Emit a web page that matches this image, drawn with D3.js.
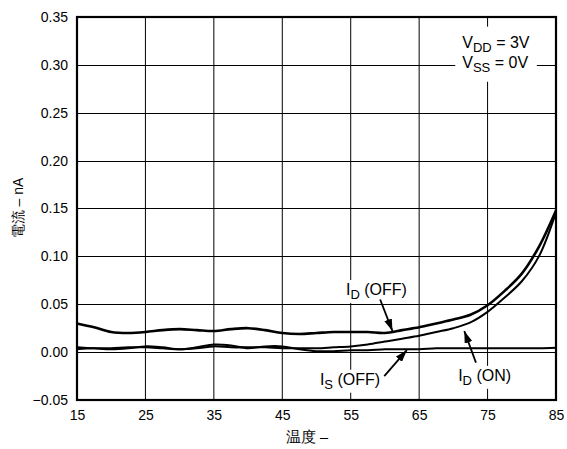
<!DOCTYPE html>
<html><head><meta charset="utf-8">
<script src="https://cdn.jsdelivr.net/npm/d3@7"></script>
<style>
body{margin:0;background:#fff;}
text{font-family:"Liberation Sans",Arial,sans-serif;fill:#000;}
</style></head>
<body><svg id="c" width="567" height="449"></svg>
<script>
const temps = [15,17.5,20,22.5,25,27.5,30,32.5,35,37.5,40,42.5,45,47.5,50,52.5,55,57.5,60,62.5,65,67.5,70,72.5,75,77.5,80,82.5,85];
const idOff = [0.030,0.026,0.021,0.020,0.021,0.023,0.024,0.023,0.022,0.024,0.025,0.023,0.020,0.019,0.020,0.021,0.021,0.021,0.020,0.023,0.026,0.030,0.034,0.039,0.049,0.064,0.082,0.110,0.148];
const idOn  = [0.003,0.004,0.004,0.005,0.005,0.004,0.003,0.004,0.006,0.005,0.005,0.005,0.004,0.004,0.004,0.005,0.006,0.008,0.011,0.014,0.017,0.021,0.025,0.031,0.042,0.057,0.074,0.100,0.146];
const isOff = [0.005,0.004,0.003,0.004,0.006,0.005,0.003,0.005,0.008,0.007,0.004,0.006,0.006,0.003,0.001,0.001,0.002,0.002,0.003,0.003,0.003,0.004,0.004,0.004,0.004,0.004,0.004,0.004,0.0045];
const xTicks = [15,25,35,45,55,65,75,85];
const yTicks = [-0.05,0,0.05,0.10,0.15,0.20,0.25,0.30,0.35];
const xTitle = "温度 –";
const yTitle = "電流 – nA";
// annotations: [main, sub, rest, T, value]
const labels = [
  ["I","D"," (OFF)",54.3,0.0597],
  ["I","S"," (OFF)",50.5,-0.034],
  ["I","D"," (ON)",70.7,-0.030]
];
// arrows: [T0, v0, T1, v1]
const arrows = [
  [59.3,0.055,61.1,0.022],
  [59.9,-0.025,63.2,0.002],
  [73.3,-0.011,71.6,0.022]
];
const condLines = [["V","DD"," = 3V",71.3,0.318],["V","SS"," = 0V",71.3,0.297]];

const svg = d3.select("#c");
const L=77,R=556,T=17,B=400;
const x = d3.scaleLinear().domain([15,85]).range([L,R]);
const y = d3.scaleLinear().domain([-0.05,0.35]).range([B,T]);

// grid
const g = svg.append("g");
g.selectAll(".vg").data(xTicks.slice(1,-1)).join("line")
 .attr("x1",d=>x(d)).attr("x2",d=>x(d)).attr("y1",T).attr("y2",B)
 .attr("stroke","#000").attr("stroke-width",1);
g.selectAll(".hg").data(yTicks.slice(1,-1)).join("line")
 .attr("y1",d=>Math.round(y(d))+0.5).attr("y2",d=>Math.round(y(d))+0.5).attr("x1",L).attr("x2",R)
 .attr("stroke","#000").attr("stroke-width",1);

// axes labels
const fmt = d=> (d<0?"\u22120.05":d.toFixed(2));
svg.append("g").attr("transform",`translate(0,${B})`)
 .call(d3.axisBottom(x).tickValues(xTicks).tickSize(0).tickPadding(10).tickFormat(d3.format("d")))
 .call(a=>a.select(".domain").remove())
 .selectAll("text").style("font-size","14px").style("font-family","Liberation Sans, Arial");
svg.append("g").attr("transform",`translate(${L},0)`)
 .call(d3.axisLeft(y).tickValues(yTicks).tickSize(0).tickPadding(9).tickFormat(fmt))
 .call(a=>a.select(".domain").remove())
 .selectAll("text").style("font-size","14px").style("font-family","Liberation Sans, Arial");

svg.append("text").attr("x",307).attr("y",442).attr("text-anchor","middle")
 .style("font-size","14.5px").text(xTitle);
svg.append("text").attr("transform",`translate(23,208) rotate(-90)`).attr("text-anchor","middle")
 .style("font-size","14px").text(yTitle);

// curves
const line = d3.line().x((d,i)=>x(temps[i])).y(d=>y(d)).curve(d3.curveCatmullRom.alpha(0.5));
const curves = [[isOff,2],[idOn,2],[idOff,2.6]];
svg.selectAll(".crv").data(curves).join("path")
 .attr("d",d=>line(d[0])).attr("fill","none").attr("stroke","#000").attr("stroke-width",d=>d[1]);

// frame
svg.append("rect").attr("x",L).attr("y",T).attr("width",R-L).attr("height",B-T)
 .attr("fill","none").attr("stroke","#000").attr("stroke-width",2.2);

// condition box
const cg = svg.append("g");
const ct = cg.selectAll("text").data(condLines).join("text")
 .attr("x",d=>x(d[3])).attr("y",d=>y(d[4])).style("font-size","16px");
ct.append("tspan").text(d=>d[0]);
ct.append("tspan").attr("dy",4).style("font-size","13px").text(d=>d[1]);
ct.append("tspan").attr("dy",-4).text(d=>d[2]);
const cb = cg.node().getBBox();
cg.insert("rect","text").attr("x",cb.x-7).attr("y",cb.y-7).attr("width",cb.width+14).attr("height",cb.height+14).attr("fill","#fff");

// labels
labels.forEach(l=>{
  const lg = svg.append("g");
  const t = lg.append("text").attr("x",x(l[3])).attr("y",y(l[4])).style("font-size","16px");
  t.append("tspan").text(l[0]);
  t.append("tspan").attr("dy",4).style("font-size","13px").text(l[1]);
  t.append("tspan").attr("dy",-4).text(l[2]);
  const b = lg.node().getBBox();
  lg.insert("rect","text").attr("x",b.x-2).attr("y",b.y-1).attr("width",b.width+4).attr("height",b.height+2).attr("fill","#fff");
});

// arrows
svg.append("defs").append("marker").attr("id","ah").attr("viewBox","0 0 12 8")
 .attr("refX",12).attr("refY",4).attr("markerWidth",12).attr("markerHeight",8)
 .attr("markerUnits","userSpaceOnUse").attr("orient","auto")
 .append("path").attr("d","M0,0L12,4L0,8Z").attr("fill","#000");
svg.selectAll(".arr").data(arrows).join("line")
 .attr("x1",d=>x(d[0])).attr("y1",d=>y(d[1])).attr("x2",d=>x(d[2])).attr("y2",d=>y(d[3]))
 .attr("stroke","#000").attr("stroke-width",1.8).attr("marker-end","url(#ah)");
</script></body></html>
